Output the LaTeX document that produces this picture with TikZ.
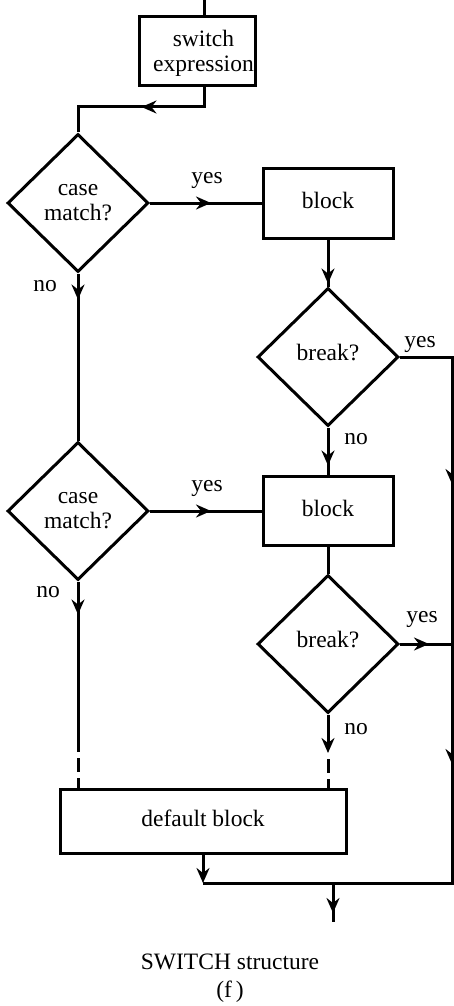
\documentclass[tikz,border=0pt]{standalone}
\usepackage{fontspec}
\setmainfont{Liberation Serif}
\usetikzlibrary{shapes.geometric,arrows.meta,decorations.markings}
\tikzset{
  fhead/.tip={Stealth[length=15pt,width=13pt,inset=5pt]},
  arrat/.style={postaction={decorate},decoration={markings,mark=at position #1 with {\arrow{fhead}}}},
  boxnode/.style={draw,rectangle,inner sep=0pt,text depth=5pt},
  decnode/.style={draw,diamond,aspect=1,minimum width=141pt,minimum height=138pt,inner sep=0pt},
  lbl/.style={anchor=base,inner sep=0pt},
  dsh/.style={dash pattern=on 14pt off 6pt,dash phase=14pt}
}
\begin{document}
\begin{tikzpicture}[x=1pt,y=-1pt,line width=3pt,line join=miter,
  every node/.style={font=\fontsize{23.5}{25}\selectfont,align=center}]
\useasboundingbox (0,0) rectangle (454,1006);

% nodes
\node[boxnode,minimum width=116pt,minimum height=69pt] (sw) at (197,51.5) {};
\node[inner sep=0pt] (swt) at (203.5,53) {switch\\expression};
\node[decnode] (d1) at (78,203) {case\\match?};
\node[boxnode,minimum width=130pt,minimum height=70pt] (b1) at (328,203) {block};
\node[decnode,text depth=10pt] (k1) at (328,357) {break?};
\node[decnode] (d2) at (78,511) {case\\match?};
\node[boxnode,minimum width=130pt,minimum height=69pt] (b2) at (328,511) {block};
\node[decnode,text depth=10pt] (k2) at (328,644) {break?};
\node[boxnode,minimum width=286pt,minimum height=64pt] (dflt) at (203,821) {default block};

% coordinates
\coordinate (in) at (204,0);
\coordinate (j1) at (204,107);
\coordinate (d2end) at (78,752);
\coordinate (k2end) at (328,753);
\coordinate (rb) at (452,883);
\coordinate (jb) at (203,883);
\coordinate (jo) at (333,883);
\coordinate (out) at (333,922);

% connectors
\draw (in) -- (in |- sw.north);
\draw[arrat=82pt] (in |- sw.south) -- (j1) -| (d1.north);
\draw[arrat=61pt] (d1.east) -- (b1.west);
\draw[arrat=26pt] (d1.south) -- (d2.north);
\draw[arrat=44pt] (b1.south) -- (k1.north);
\draw[arrat=38pt] (k1.south) -- (b2.north);
\draw[arrat=61pt] (d2.east) -- (b2.west);
\draw (b2.south) -- (k2.north);
\draw[arrat=33pt] (d2.south) -- (d2end);
\draw[dsh] (d2end) -- (d2end |- dflt.north);
\draw[-{fhead}] (k2.south) -- (k2end);
\draw[dsh] (k2end) -- (k2end |- dflt.north);
\draw[postaction={decorate},decoration={markings,
   mark=at position 179pt with {\arrow{fhead}},
   mark=at position 459pt with {\arrow{fhead}}}]
   (k1.east) -| (rb) -- (jb);
\draw[arrat=29pt] (k2.east) -- (k2.east -| rb);
\draw[-{fhead}] (dflt.south) -- (jb);
\draw[arrat=30pt] (jo) -- (out);

% labels
\node[lbl] (y1) at (207,183) {yes};
\node[lbl] (n1) at (45,291) {no};
\node[lbl] (y2) at (420,347) {yes};
\node[lbl] (n2) at (356,444) {no};
\node[lbl] (y3) at (207,491) {yes};
\node[lbl] (n3) at (48,597) {no};
\node[lbl] (y4) at (422,622) {yes};
\node[lbl] (n4) at (356,734) {no};
\node[lbl] (cap1) at (230,969) {SWITCH structure};
\node[lbl] (cap2) at (230,997) {(f\,)};
\end{tikzpicture}
\end{document}
